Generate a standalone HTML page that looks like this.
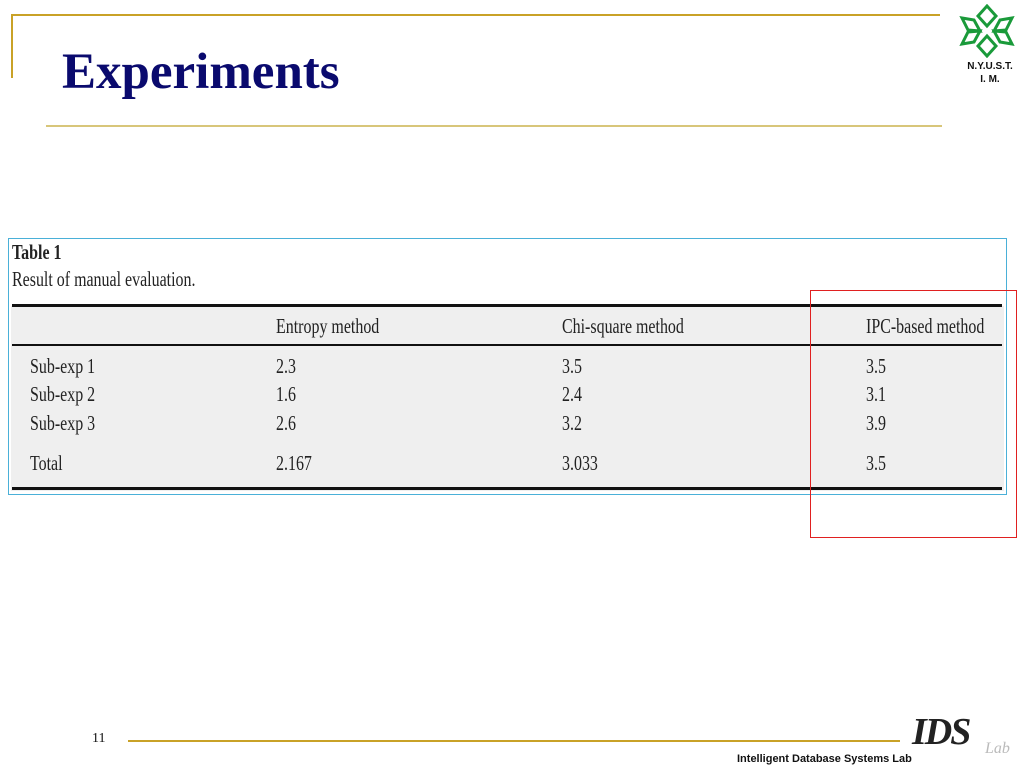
<!DOCTYPE html>
<html><head><meta charset="utf-8"><style>
body{margin:0;width:1024px;height:768px;position:relative;background:#fff;overflow:hidden;font-family:"Liberation Serif",serif}
.a{position:absolute}
.t{position:absolute;font-family:"Liberation Serif",serif;font-size:21px;color:#222;transform-origin:0 0;transform:scaleX(0.76);white-space:nowrap;line-height:1}
</style></head><body>
<div class="a" style="left:12px;top:14px;width:928px;height:2px;background:#c9a227"></div>
<div class="a" style="left:11px;top:14px;width:2px;height:64px;background:#c9a227"></div>
<div class="a" style="left:46px;top:125px;width:896px;height:2px;background:#d8c67a"></div>
<div class="a" style="left:62px;top:43px;font-size:51px;font-weight:bold;color:#0a0a6e;font-family:'Liberation Serif',serif">Experiments</div>
<svg class="a" style="left:958px;top:4px" width="58" height="54" viewBox="0 0 58 54">
<g fill="none" stroke="#1a9a3a" stroke-width="3">
<path d="M29 2 L20 12 L29 22 L38 12 Z"/><path d="M29 52 L20 42 L29 32 L38 42 Z"/>
<path d="M4 14 L16 16 L22 27 L10 26 Z"/><path d="M54 14 L42 16 L36 27 L48 26 Z"/>
<path d="M4 40 L16 38 L22 27 L10 28 Z"/><path d="M54 40 L42 38 L36 27 L48 28 Z"/>
</g></svg>
<div class="a" style="left:955px;top:60px;width:70px;text-align:center;font:bold 10px 'Liberation Sans',sans-serif;line-height:13px;color:#111">N.Y.U.S.T.<br>I. M.</div>

<div class="a" style="left:8px;top:238px;width:997px;height:255px;border:1px solid #4ab0d8;background:#fff">
<div class="a" style="left:2px;top:67px;width:993px;height:185px;background:#efefef"></div>
</div>
<div class="t" style="left:12px;top:242px;font-weight:bold">Table 1</div>
<div class="t" style="left:12px;top:269px">Result of manual evaluation.</div>
<div class="a" style="left:12px;top:304px;width:990px;height:3px;background:#111"></div>
<div class="a" style="left:12px;top:344px;width:990px;height:2px;background:#111"></div>
<div class="a" style="left:12px;top:487px;width:990px;height:3px;background:#111"></div>

<div class="t" style="left:276px;top:316px">Entropy method</div>
<div class="t" style="left:562px;top:316px">Chi-square method</div>
<div class="t" style="left:866px;top:316px">IPC-based method</div>

<div class="t" style="left:30px;top:356px">Sub-exp 1</div>
<div class="t" style="left:276px;top:356px">2.3</div>
<div class="t" style="left:562px;top:356px">3.5</div>
<div class="t" style="left:866px;top:356px">3.5</div>

<div class="t" style="left:30px;top:384px">Sub-exp 2</div>
<div class="t" style="left:276px;top:384px">1.6</div>
<div class="t" style="left:562px;top:384px">2.4</div>
<div class="t" style="left:866px;top:384px">3.1</div>

<div class="t" style="left:30px;top:413px">Sub-exp 3</div>
<div class="t" style="left:276px;top:413px">2.6</div>
<div class="t" style="left:562px;top:413px">3.2</div>
<div class="t" style="left:866px;top:413px">3.9</div>

<div class="t" style="left:30px;top:453px">Total</div>
<div class="t" style="left:276px;top:453px">2.167</div>
<div class="t" style="left:562px;top:453px">3.033</div>
<div class="t" style="left:866px;top:453px">3.5</div>

<div class="a" style="left:810px;top:290px;width:205px;height:246px;border:1px solid #e02020"></div>

<div class="a" style="left:92px;top:731px;font-size:14px;color:#111">11</div>
<div class="a" style="left:128px;top:740px;width:772px;height:2px;background:#c9a227"></div>
<div class="a" style="left:737px;top:753px;font:bold 11px 'Liberation Sans',sans-serif;color:#111">Intelligent Database Systems Lab</div>
<div class="a" style="left:912px;top:710px;font:italic bold 38px 'Liberation Serif',serif;color:#222;letter-spacing:-2px">IDS</div>
<div class="a" style="left:985px;top:740px;font:italic 16px 'Liberation Serif',serif;color:#bbb">Lab</div>
</body></html>
